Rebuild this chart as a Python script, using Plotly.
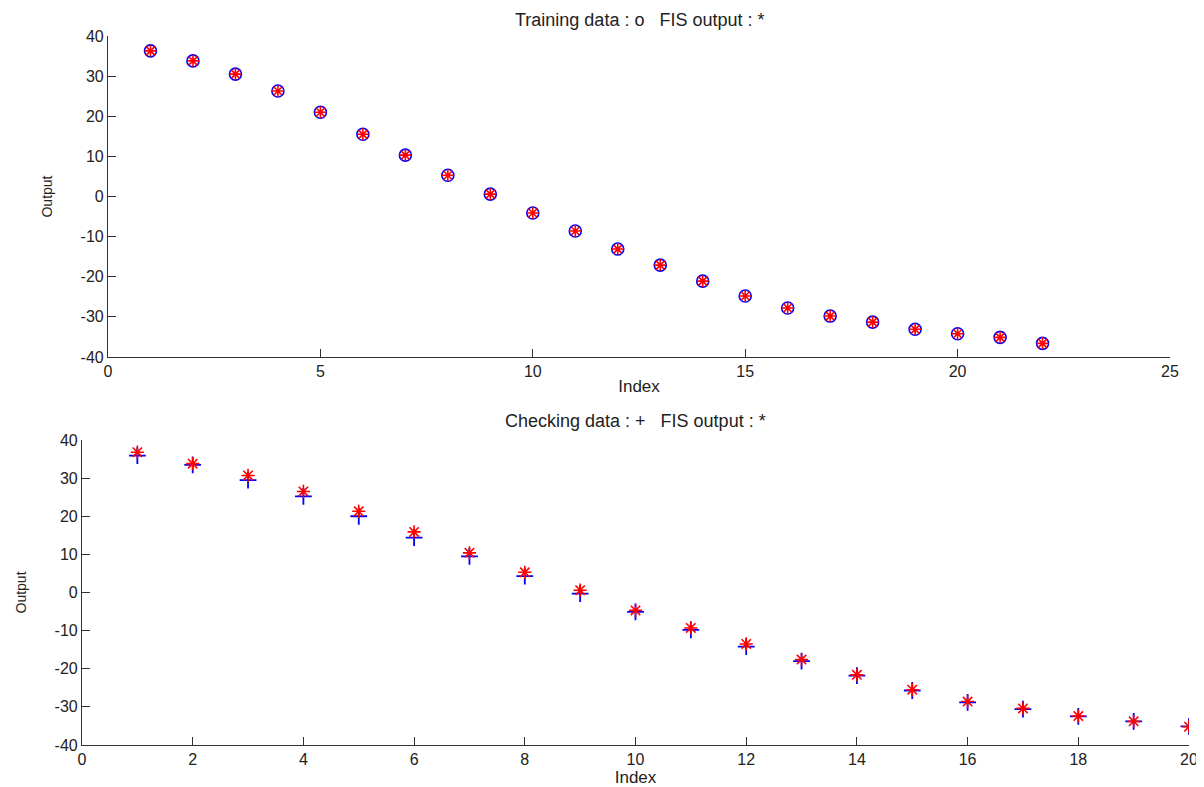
import plotly.graph_objects as go

# ---- data ----
train_index = list(range(1, 23))
train_data = [36.3, 33.8, 30.5, 26.3, 21.0, 15.5, 10.3, 5.3, 0.6, -4.1, -8.6,
              -13.1, -17.1, -21.1, -24.8, -27.8, -29.8, -31.3, -33.1, -34.2, -35.1, -36.6]
train_fis = [36.3, 33.8, 30.5, 26.3, 21.0, 15.5, 10.3, 5.3, 0.6, -4.1, -8.6,
             -13.1, -17.1, -21.1, -24.8, -27.8, -29.8, -31.3, -33.1, -34.2, -35.1, -36.6]

check_index = list(range(1, 21))
check_data = [35.9, 33.5, 29.5, 25.2, 20.0, 14.4, 9.5, 4.3, -0.3, -5.1,
              -9.8, -14.2, -18.0, -21.8, -25.7, -28.8, -30.6, -32.5, -33.8, -35.1]
check_fis = [36.8, 33.8, 30.7, 26.5, 21.3, 15.9, 10.4, 5.3, 0.6, -4.7,
             -9.3, -13.5, -17.6, -21.6, -25.5, -28.6, -30.4, -32.4, -33.8, -35.2]

top_xticks = [0, 5, 10, 15, 20, 25]
bot_xticks = [0, 2, 4, 6, 8, 10, 12, 14, 16, 18, 20]
yticks = [40, 30, 20, 10, 0, -10, -20, -30, -40]
ytick_labels = ["40", "30", "20", "10", "0", "-10", "-20", "-30", "-40"]

title_top = "Training data : o   FIS output : *"
title_bot = "Checking data : +   FIS output : *"

# page body has an 8px default margin; size the figure to fit inside the window
OFF = 8
W, H = 1204 - OFF, 787 - OFF
FONT = "Liberation Sans, Arial, sans-serif"
AX = "#333333"
TXT = "#222222"

fig = go.Figure()

fig.add_trace(go.Scatter(x=train_index, y=train_data, mode="markers",
                         marker=dict(symbol="circle-open", size=12, color="#0000FF",
                                     line=dict(color="#0000FF", width=1.6)),
                         xaxis="x", yaxis="y", showlegend=False))
fig.add_trace(go.Scatter(x=train_index, y=train_fis, mode="markers",
                         marker=dict(symbol="asterisk-open", size=10, color="#FF0000",
                                     line=dict(color="#FF0000", width=1.6)),
                         xaxis="x", yaxis="y", showlegend=False))

fig.add_trace(go.Scatter(x=check_index, y=check_data, mode="markers",
                         marker=dict(symbol="cross-thin-open", size=12, color="#0000FF",
                                     line=dict(color="#0000FF", width=1.8)),
                         xaxis="x2", yaxis="y2", showlegend=False))
fig.add_trace(go.Scatter(x=check_index, y=check_fis, mode="markers",
                         marker=dict(symbol="asterisk-open", size=11, color="#FF0000",
                                     line=dict(color="#FF0000", width=1.6)),
                         xaxis="x2", yaxis="y2", showlegend=False))


def px_x(p):
    return (p - OFF) / W


def px_y(p):
    return 1 - (p - OFF) / H


axis_common = dict(showline=True, linecolor=AX, linewidth=1.2, ticks="inside",
                   ticklen=8, tickwidth=1.2, tickcolor=AX, showgrid=False,
                   zeroline=False, mirror=False, automargin=False,
                   tickfont=dict(family=FONT, size=16, color=TXT))

xtitle_font = dict(family=FONT, size=17, color=TXT)
ytitle_font = dict(family=FONT, size=14, color=TXT)
title_font = dict(family=FONT, size=18, color=TXT)

fig.update_layout(
    width=W, height=H,
    margin=dict(l=0, r=0, t=0, b=0, autoexpand=False),
    paper_bgcolor="white", plot_bgcolor="white",
    xaxis=dict(domain=[px_x(108), px_x(1170)], range=[0, 25], tickvals=top_xticks,
               anchor="y", title=dict(text="Index", font=xtitle_font, standoff=0),
               **axis_common),
    yaxis=dict(domain=[px_y(357), px_y(36)], range=[-40, 40], tickvals=yticks,
               ticktext=ytick_labels, anchor="x",
               title=dict(text="Output", font=ytitle_font, standoff=24),
               **axis_common),
    xaxis2=dict(domain=[px_x(82), px_x(1189)], range=[0, 20], tickvals=bot_xticks,
                anchor="y2", title=dict(text="Index", font=xtitle_font, standoff=0),
                **axis_common),
    yaxis2=dict(domain=[px_y(745), px_y(440)], range=[-40, 40], tickvals=yticks,
                ticktext=ytick_labels, anchor="x2",
                title=dict(text="Output", font=ytitle_font, standoff=24),
                **axis_common),
    annotations=[
        dict(text=title_top, x=(px_x(108) + px_x(1170)) / 2, y=px_y(8),
             xref="paper", yref="paper", showarrow=False, xanchor="center", yanchor="top",
             font=title_font),
        dict(text=title_bot, x=(px_x(82) + px_x(1189)) / 2, y=px_y(421),
             xref="paper", yref="paper", showarrow=False, xanchor="center", yanchor="middle",
             font=title_font),
    ],
)

fig.write_html("out.html")
